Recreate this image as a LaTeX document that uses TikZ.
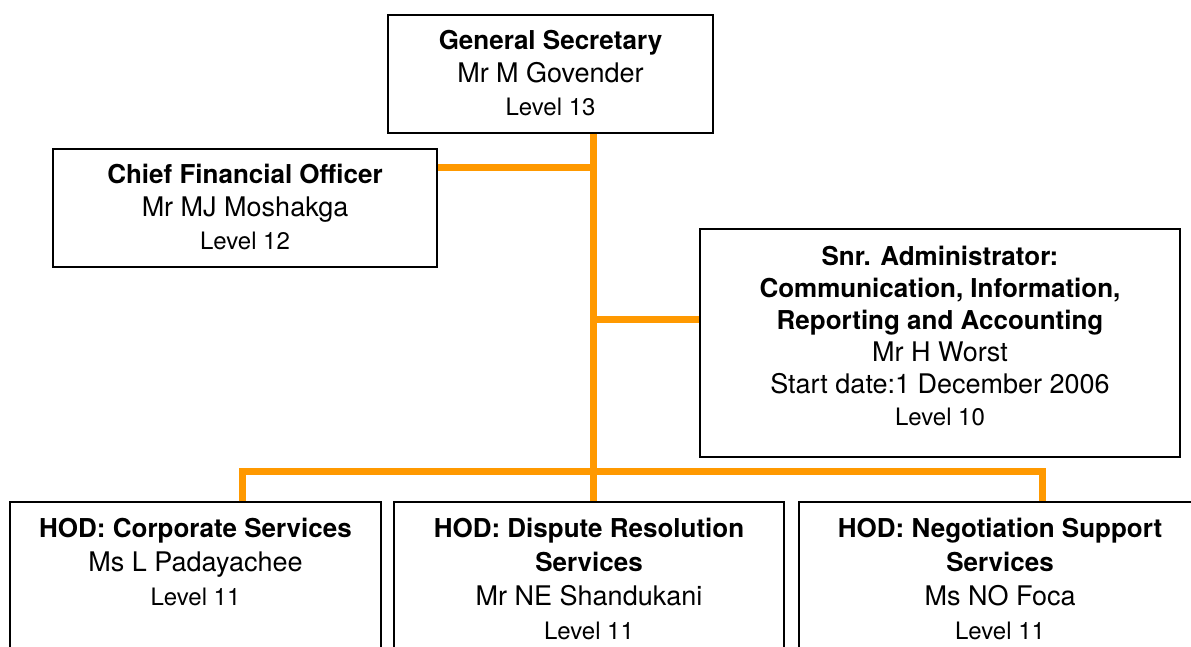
\documentclass[tikz,border=0pt]{standalone}
\usepackage{fontspec}
\setmainfont{TeX Gyre Heros}
\usetikzlibrary{positioning}
\definecolor{linkorange}{RGB}{255,153,0}
\newcommand{\post}[1]{{\fontsize{26}{\baselineskip}\selectfont\bfseries #1}}
\newcommand{\who}[1]{{\fontsize{27}{\baselineskip}\selectfont #1}}
\newcommand{\lvl}[1]{{\fontsize{24}{\baselineskip}\selectfont #1}}
\begin{document}
\begin{tikzpicture}[x=1pt,y=-1pt,
	box/.style={draw,line width=1.5pt,inner sep=0pt},
	words/.style={align=center,inner sep=0pt,font=\fontsize{26}{33}\selectfont},
	link/.style={draw=linkorange,line width=7pt}]
	\clip (0,0) rectangle (1191,646);
	% boxes
	\node[box,minimum width=325pt,minimum height=118pt] (gs) at (550.5,74) {};
	\node[box,minimum width=384pt,minimum height=118pt] (cfo) at (245,208) {};
	\node[box,minimum width=480pt,minimum height=228pt] (snr) at (940,343) {};
	\node[box,minimum width=371pt,minimum height=240pt] (hodc) at (195.5,622) {};
	\node[box,minimum width=390pt,minimum height=240pt] (hodd) at (589,622) {};
	\node[box,minimum width=402pt,minimum height=240pt] (hodn) at (1000,622) {};
	% texts
	\node[words,below=16pt of gs.north] (gs text) {\post{General Secretary}\\ \who{Mr M Govender}\\ \lvl{Level 13}};
	\node[words,below=16pt of cfo.north] (cfo text) {\post{Chief Financial Officer}\\ \who{Mr MJ Moshakga}\\ \lvl{Level 12}};
	\node[words,font=\fontsize{26}{32}\selectfont,below=18pt of snr.north] (snr text) {\post{Snr. Administrator:}\\ \post{Communication, Information,}\\ \post{Reporting and Accounting}\\ \who{Mr H Worst}\\ \who{Start date:1 December 2006}\\ \lvl{Level 10}};
	\node[words,font=\fontsize{26}{34}\selectfont,below=17pt of hodc.north] (hodc text) {\post{HOD: Corporate Services}\\ \who{Ms L Padayachee}\\ \lvl{Level 11}};
	\node[words,font=\fontsize{26}{34}\selectfont,below=17pt of hodd.north] (hodd text) {\post{HOD: Dispute Resolution}\\ \post{Services}\\ \who{Mr NE Shandukani}\\ \lvl{Level 11}};
	\node[words,font=\fontsize{26}{34}\selectfont,below=17pt of hodn.north] (hodn text) {\post{HOD: Negotiation Support}\\ \post{Services}\\ \who{Ms NO Foca}\\ \lvl{Level 11}};
	% connectors
	\coordinate (bus) at (593.5,471.5);
	\draw[link] (gs.south -| bus) -- (hodd.north -| bus);
	\draw[link] ([yshift=41pt]cfo.east) -- ([yshift=41pt]cfo.east -| bus);
	\draw[link] ([yshift=23.5pt]snr.west) -- ([yshift=23.5pt]snr.west -| bus);
	\draw[link] ([xshift=47pt]hodc.north) |- (bus) -| ([xshift=42.5pt]hodn.north);
\end{tikzpicture}
\end{document}
